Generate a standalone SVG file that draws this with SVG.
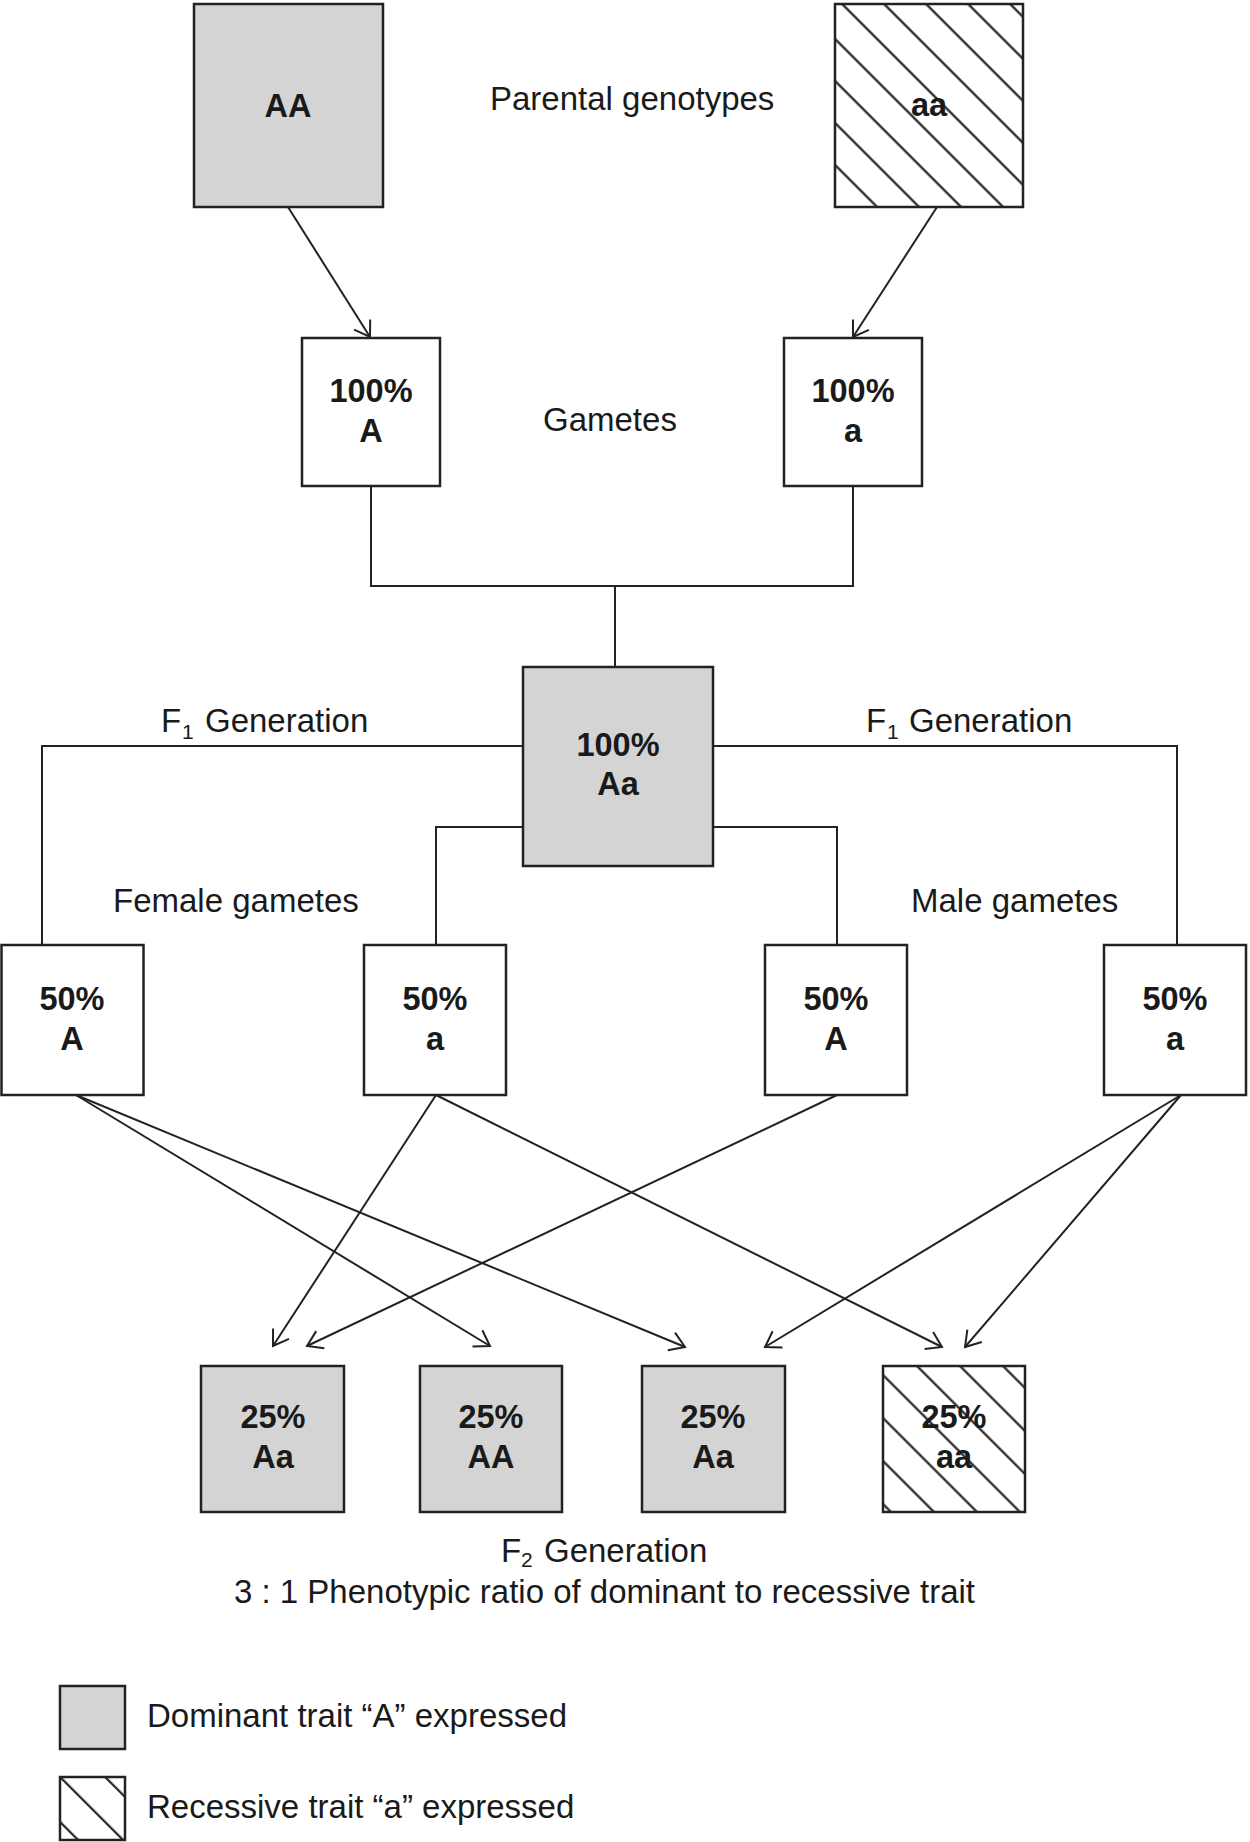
<svg xmlns="http://www.w3.org/2000/svg" width="1250" height="1842" viewBox="0 0 1250 1842">
<style>
.box{stroke:#222;stroke-width:2.5;fill:#fff}
.dom{fill:#d4d4d4}
.lbl{font-family:"Liberation Sans",Arial,sans-serif;font-size:33px;fill:#1a1a1a}
.b{font-family:"Liberation Sans",Arial,sans-serif;font-size:32.5px;font-weight:bold;fill:#1a1a1a;text-anchor:middle}
.sub{font-size:21px}
.con{stroke:#222;stroke-width:2;fill:none}
.arr{stroke:#222;stroke-width:2;fill:none;marker-end:url(#vh)}
</style>
<defs>
<marker id="vh" markerUnits="userSpaceOnUse" markerWidth="40" markerHeight="40" viewBox="-20 -20 40 40" refX="0" refY="0" orient="auto" overflow="visible">
<path d="M-14.7,-9.5 L0,0 L-14.7,9.5" fill="none" stroke="#222" stroke-width="2"/>
</marker>
<pattern id="hTop" patternUnits="userSpaceOnUse" width="29.7" height="29.7" patternTransform="rotate(45)">
<line x1="-1" y1="1.414" x2="31" y2="1.414" stroke="#222" stroke-width="2.2"/>
</pattern>
<pattern id="hF2" patternUnits="userSpaceOnUse" width="30.41" height="30.41" patternTransform="rotate(45)">
<line x1="-1" y1="13.43" x2="32" y2="13.43" stroke="#222" stroke-width="2.2"/>
</pattern>
<pattern id="hLeg" patternUnits="userSpaceOnUse" width="31.82" height="31.82" patternTransform="rotate(45)">
<line x1="-1" y1="4.95" x2="33" y2="4.95" stroke="#222" stroke-width="2.2"/>
</pattern>
</defs>

<g id="connectors">
<path class="arr" d="M288,207 L370,337"/>
<path class="arr" d="M937,207 L853,337"/>
<path class="con" d="M371,486 V586 H853 V486"/>
<path class="con" d="M615,586 V667"/>
<path class="con" d="M523,746 H42 V945"/>
<path class="con" d="M713,746 H1177 V945"/>
<path class="con" d="M523,827 H436 V945"/>
<path class="con" d="M713,827 H837 V945"/>
<path class="arr" d="M436,1095 L273,1346"/>
<path class="arr" d="M837,1095 L307,1346"/>
<path class="arr" d="M76,1095 L490,1346"/>
<path class="arr" d="M76,1095 L685,1347"/>
<path class="arr" d="M1181,1095 L765,1347"/>
<path class="arr" d="M436,1095 L942,1347"/>
<path class="arr" d="M1181,1095 L965,1347"/>
</g>

<g id="parent-AA">
<rect class="box dom" x="194" y="4" width="189" height="203"/>
<text class="b" x="288" y="117">AA</text>
</g>
<g id="parent-aa">
<rect class="box" x="835" y="4" width="188" height="203" style="fill:url(#hTop)"/>
<text class="b" x="929" y="116">aa</text>
</g>
<g id="label-parental">
<text class="lbl" x="490" y="110">Parental genotypes</text>
</g>

<g id="gamete-A">
<rect class="box" x="302" y="338" width="138" height="148"/>
<text class="b" x="371" y="402">100%</text>
<text class="b" x="371" y="442">A</text>
</g>
<g id="gamete-a">
<rect class="box" x="784" y="338" width="138" height="148"/>
<text class="b" x="853" y="402">100%</text>
<text class="b" x="853" y="442">a</text>
</g>
<g id="label-gametes">
<text class="lbl" x="543" y="431">Gametes</text>
</g>

<g id="f1-Aa">
<rect class="box dom" x="523" y="667" width="190" height="199"/>
<text class="b" x="618" y="756">100%</text>
<text class="b" x="618" y="795">Aa</text>
</g>
<g id="label-f1-left">
<text class="lbl" y="732"><tspan x="161">F</tspan><tspan class="sub" x="182" y="739">1</tspan><tspan x="205" y="732">Generation</tspan></text>
</g>
<g id="label-f1-right">
<text class="lbl" y="732"><tspan x="866">F</tspan><tspan class="sub" x="887" y="739">1</tspan><tspan x="909" y="732">Generation</tspan></text>
</g>
<g id="label-female">
<text class="lbl" x="113" y="912">Female gametes</text>
</g>
<g id="label-male">
<text class="lbl" x="911" y="912">Male gametes</text>
</g>

<g id="female-A">
<rect class="box" x="1.5" y="945" width="142" height="150"/>
<text class="b" x="72" y="1010">50%</text>
<text class="b" x="72" y="1050">A</text>
</g>
<g id="female-a">
<rect class="box" x="364" y="945" width="142" height="150"/>
<text class="b" x="435" y="1010">50%</text>
<text class="b" x="435" y="1050">a</text>
</g>
<g id="male-A">
<rect class="box" x="765" y="945" width="142" height="150"/>
<text class="b" x="836" y="1010">50%</text>
<text class="b" x="836" y="1050">A</text>
</g>
<g id="male-a">
<rect class="box" x="1104" y="945" width="142" height="150"/>
<text class="b" x="1175" y="1010">50%</text>
<text class="b" x="1175" y="1050">a</text>
</g>

<g id="f2-Aa-1">
<rect class="box dom" x="201" y="1366" width="143" height="146"/>
<text class="b" x="273" y="1428">25%</text>
<text class="b" x="273" y="1468">Aa</text>
</g>
<g id="f2-AA">
<rect class="box dom" x="420" y="1366" width="142" height="146"/>
<text class="b" x="491" y="1428">25%</text>
<text class="b" x="491" y="1468">AA</text>
</g>
<g id="f2-Aa-2">
<rect class="box dom" x="642" y="1366" width="143" height="146"/>
<text class="b" x="713" y="1428">25%</text>
<text class="b" x="713" y="1468">Aa</text>
</g>
<g id="f2-aa">
<rect class="box" x="883" y="1366" width="142" height="146" style="fill:url(#hF2)"/>
<text class="b" x="954" y="1428">25%</text>
<text class="b" x="954" y="1468">aa</text>
</g>

<g id="label-f2">
<text class="lbl" y="1562"><tspan x="501">F</tspan><tspan class="sub" x="521" y="1567">2</tspan><tspan x="544" y="1562">Generation</tspan></text>
<text class="lbl" x="604.5" y="1603" text-anchor="middle">3 : 1 Phenotypic ratio of dominant to recessive trait</text>
</g>

<g id="legend-dominant">
<rect class="box dom" x="60" y="1686" width="65" height="63"/>
<text class="lbl" x="147" y="1727">Dominant trait “A” expressed</text>
</g>
<g id="legend-recessive">
<rect class="box" x="60" y="1777" width="65" height="63" style="fill:url(#hLeg)"/>
<text class="lbl" x="147" y="1818">Recessive trait “a” expressed</text>
</g>
</svg>
